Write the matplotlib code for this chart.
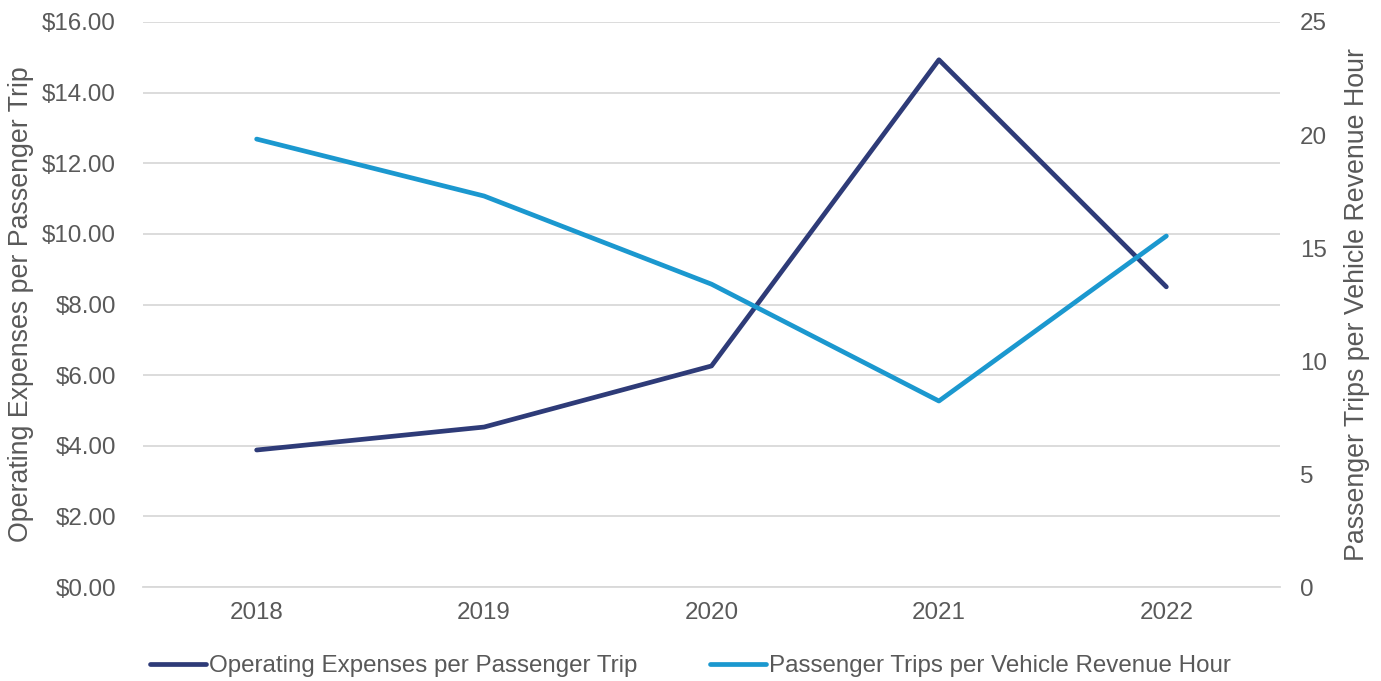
import matplotlib.pyplot as plt
from matplotlib.ticker import FuncFormatter

plt.rcParams['font.family'] = ['Liberation Sans', 'DejaVu Sans']

years = ['2018', '2019', '2020', '2021', '2022']
op_expenses = [3.88, 4.53, 6.26, 14.93, 8.50]
trips_per_hour = [19.82, 17.30, 13.40, 8.23, 15.53]

navy = '#2E3B78'
blue = '#1B98CF'
txt = '#595959'
fs = 17.4
fs_lab = 19.3

fig = plt.figure(figsize=(13.81, 6.81), dpi=100)
ax = fig.add_axes([0.1035, 0.138, 0.8234, 0.8297])
ax2 = ax.twinx()

x = list(range(len(years)))
l1, = ax.plot(x, op_expenses, color=navy, lw=3.4, solid_capstyle='round',
              label='Operating Expenses per Passenger Trip')
l2, = ax2.plot(x, trips_per_hour, color=blue, lw=3.4, solid_capstyle='round',
               label='Passenger Trips per Vehicle Revenue Hour')

ax.set_xlim(-0.5, 4.5)
ax.set_ylim(0, 16)
ax.set_yticks(range(0, 17, 2))
ax.yaxis.set_major_formatter(FuncFormatter(lambda v, p: f'${v:.2f}'))
ax2.set_ylim(0, 25)
ax2.set_yticks(range(0, 26, 5))

ax.set_xticks(x)
ax.set_xticklabels(years)
ax.grid(axis='y', color='#D9D9D9', lw=1.3)
ax.set_axisbelow(True)

for a in (ax, ax2):
    for s in a.spines.values():
        s.set_visible(False)
    a.tick_params(length=0, labelsize=fs, labelcolor=txt)
ax.spines['bottom'].set_visible(True)
ax.spines['bottom'].set_color('#D9D9D9')
ax.spines['bottom'].set_linewidth(1.3)
ax.tick_params(axis='x', pad=11)
ax.tick_params(axis='y', pad=19.5)
ax2.tick_params(axis='y', pad=14.5)

ax.set_ylabel('Operating Expenses per Passenger Trip', fontsize=fs_lab, color=txt, labelpad=6)
ax2.set_ylabel('Passenger Trips per Vehicle Revenue Hour', fontsize=fs_lab, color=txt, labelpad=12)

fig.legend(handles=[l1, l2], loc='center', bbox_to_anchor=(0.5, 0.022), ncol=2,
           frameon=False, fontsize=fs, labelcolor=txt, handlelength=2.3,
           handletextpad=0.15, columnspacing=3.0)

fig.savefig('out.png', dpi=100)
